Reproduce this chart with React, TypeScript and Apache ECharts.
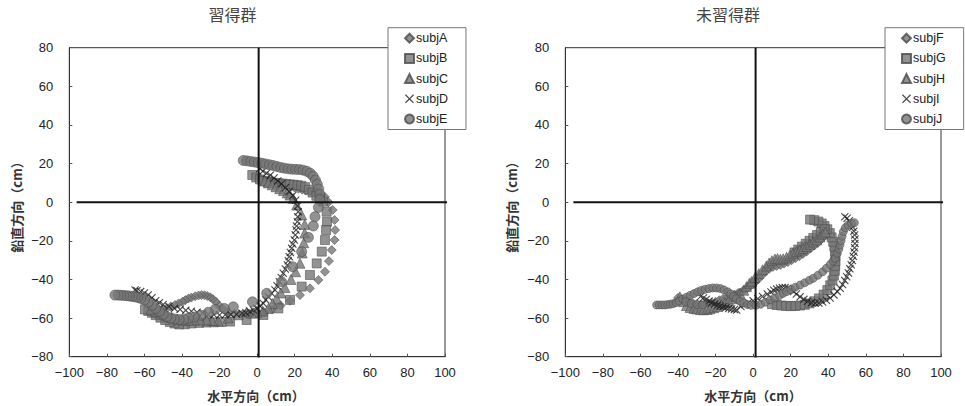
import React, { useEffect, useRef } from "react";
import * as echarts from "echarts";

// ---------- data (left: 習得群) ----------
const leftNames = ["subjA", "subjB", "subjC", "subjD", "subjE"];
const rightNames = ["subjF", "subjG", "subjH", "subjI", "subjJ"];

const subjA = [
  [2, 12], [4, 11.5], [6, 11], [8, 10.5], [10, 10], [12, 9.5], [14, 9], [16, 8.5], [18, 8], [20, 7.5],
  [22, 7], [24, 6.5], [26, 6], [28, 5.5], [30, 5], [32, 4.5], [34, 3.8], [36, 2.8], [38, 0], [40.2, -4],
  [41.2, -9.2], [41.5, -14.4], [41.2, -19.6], [39.7, -24.8], [38.2, -30.5], [36.1, -36], [32.6, -40.3],
  [28.1, -44.6], [22.8, -48.1], [17.5, -51], [12.5, -53.5], [8, -55.5], [4, -57], [0, -57.8], [-4, -58.2],
  [-8, -58.2], [-12, -57.8], [-15.5, -56.8], [-18.5, -55], [-20.5, -53.2], [-22, -51.5], [-23.5, -50.2],
  [-25, -49.2], [-26.5, -48.6], [-28, -48.2], [-29.6, -48.1], [-31.2, -48.3], [-33, -48.7], [-35, -49.4],
  [-36.6, -49.9], [-38.2, -50.7], [-39.8, -51.6], [-41.8, -52.4], [-43.7, -53.2], [-46, -54], [-48, -54.8],
  [-50, -55.5], [-52, -55.8],
];
const subjB = [
  [-2.6, 14.1], [-0.5, 12.8], [1.5, 11.8], [3.5, 11], [5.5, 10.5], [7.5, 10.2], [9.5, 10], [11.5, 9.8],
  [13.5, 9.6], [15.5, 9.4], [17.5, 9.2], [19.5, 9], [21.5, 8.8], [23.5, 8.5], [25.5, 7.8], [27.5, 6.5],
  [29.5, 5], [31.5, 3.3], [33.5, 1.8], [35.2, 0.3], [37, -4.9], [37.2, -10.1], [36.7, -14.4], [36.1, -19.6],
  [34.4, -25.6], [31.7, -31.7], [28.1, -37.7], [23.7, -43.7], [17.5, -50.6], [11.3, -55], [3.3, -58.4],
  [-5.6, -61], [-14.4, -61.8], [-19, -62], [-23, -62.2], [-27, -62.3], [-31, -62.5], [-35, -62.8],
  [-38.5, -63.2], [-41.5, -63.3], [-44, -62.8], [-46.5, -62], [-49, -61], [-51.5, -59.8], [-54, -58.5],
  [-56, -57.3], [-58, -56.3], [-59.7, -55.5],
];
const subjC = [
  [4, 11], [6, 10], [8, 9], [10, 8], [12, 7], [14, 6], [16, 4.8], [17.5, 3.7], [19.2, 2], [21, -1.5],
  [23.7, -6.6], [25.3, -11.5], [25.3, -16], [24.8, -21], [24, -26.3], [22.8, -31.6], [20.5, -36], [18, -40],
  [14.8, -44.2], [12.6, -47], [10.4, -49.8], [8.2, -52.5], [6, -55], [3, -56.3], [0, -57], [-3, -57.5],
  [-5.6, -56.8], [-10, -58.3], [-15.4, -60], [-20.7, -61.5], [-24, -61.3], [-26.9, -61], [-30.4, -61],
  [-33.5, -61], [-36.5, -61.2], [-39.5, -61], [-42.5, -60.5], [-45.5, -59.6], [-48.5, -58.6], [-51.5, -57.5],
  [-54, -56.5], [-56.5, -55.5],
];
const subjD = [
  [1.5, 17.5], [3, 16], [5, 15], [7, 14], [9, 12.5], [11, 11], [13, 9.5], [15, 7.5], [17, 5.5], [19, 3.5],
  [20.5, 1], [21.5, -2], [21.9, -5], [21.6, -7.5], [21.4, -10.1], [21, -12.3], [20.7, -14.4], [20.3, -17],
  [19.8, -19.6], [19, -21.7], [18.4, -23.9], [17.7, -26], [17.1, -28.2], [16.6, -30.3], [16.1, -32.5],
  [15, -34.6], [13.9, -36.8], [12.8, -39], [11.8, -41.2], [10.6, -43.3], [9.5, -45.5], [7.7, -47.2],
  [5.9, -48.9], [4.6, -50.6], [3.3, -52.4], [1.5, -53.7], [-0.2, -55], [-2, -55.8], [-3.8, -56.7],
  [-6, -57.2], [-8, -57.5], [-11, -58], [-14, -58.2], [-17, -58.3], [-20, -58.4], [-23, -58.3], [-26, -58],
  [-29, -57.5], [-32, -57], [-35, -56.5], [-38, -56], [-41, -55.5], [-44, -55], [-47, -54], [-50, -53],
  [-52, -52], [-54, -51], [-56, -49.5], [-58, -48], [-60, -47], [-62, -46.3], [-64, -45.8], [-65, -45.5],
];
const subjE = [
  [-7.4, 21.6], [-5.5, 21.4], [-3.5, 21.1], [-1.5, 20.8], [0.5, 20.5], [2.5, 20.2], [4.5, 19.8], [6.5, 19.4],
  [8.5, 19], [10.5, 18.5], [12.5, 18], [14.5, 17.6], [16.5, 17.3], [18.5, 17.1], [20.5, 17], [22.5, 16.9],
  [24.5, 16.6], [26.5, 16], [28.3, 15], [29.8, 13.5], [31, 11.5], [32, 9.3], [32.8, 6.8], [33.3, 4.2],
  [33.3, 1.3], [32.6, -2.7], [30.8, -7.5], [29.9, -12.3], [27.3, -18.2], [23.7, -25.6], [18.9, -33.4],
  [13, -41.2], [5.1, -47.2], [-2.5, -51.6], [-12.7, -54.2], [-17.5, -55], [-22.4, -55.5], [-26, -57],
  [-30, -58.5], [-33.5, -59.5], [-36.5, -60], [-39, -60.5], [-41.5, -60.8], [-44, -60.5], [-46, -60],
  [-48, -59.2], [-50, -58], [-52, -56.5], [-54, -55], [-56, -53.3], [-58, -51.8], [-60, -50.6], [-62, -49.8],
  [-63.5, -49.3], [-65, -49], [-66.5, -48.8], [-68, -48.6], [-69.5, -48.4], [-71, -48.3], [-72.5, -48.2],
  [-74, -48.1], [-75.7, -48.1],
];

// ---------- data (right: 未習得群) ----------
const subjF = [
  [-40, -49.5], [-38, -50.3], [-36, -51], [-34, -51.8], [-32, -52.4], [-30, -52.8], [-28, -53], [-26, -53],
  [-24, -52.7], [-22, -52.2], [-20, -51.5], [-18, -50.8], [-16, -50], [-14, -49.2], [-12, -48.5], [-10, -47.8],
  [-8, -47], [-7, -46.9], [-5, -45.5], [-3, -44.5], [-1.7, -43.7], [0.5, -42], [2.5, -40], [4.5, -38],
  [6.5, -36], [8.5, -34.5], [10.5, -33.5], [12.5, -33], [14.5, -32.5], [16.5, -31.8], [18.5, -31], [20.5, -30],
  [22.5, -29], [24.5, -28], [26.5, -26.8], [28.5, -25.5], [30.5, -24], [32.5, -22.5], [34.5, -21], [36, -19.5],
  [37.5, -18], [38.5, -16.5], [39.5, -15.5],
];
const subjG = [
  [10, -52.8], [12.5, -53.2], [15, -53.5], [17.5, -53.7], [20, -53.8], [22.5, -53.7], [25, -53.5], [27.5, -53.1],
  [30, -52.4], [32.5, -51.3], [35, -49.8], [37.5, -47.8], [39.5, -45.5], [41, -43], [42.2, -40.5], [43, -38],
  [43.5, -35.5], [43.7, -33], [43.8, -30.5], [43.8, -28], [43.6, -25.5], [43.2, -23], [42.6, -20.5],
  [41.8, -18.2], [40.8, -16], [39.5, -14], [38, -12.3], [36.5, -11], [34.7, -10], [32.5, -9.3], [30.3, -9],
  [22, -26], [24, -24.5], [26, -23], [28, -21.5], [30, -20], [32, -18.5], [34, -17], [36, -15.5], [38, -14],
];
const subjH = [
  [-39, -49], [-37, -51.5], [-35.5, -53.5], [-33.6, -54.5], [-31.5, -55], [-30, -55.3], [-28, -55.6],
  [-26.5, -55.7], [-24.5, -55.5], [-23, -55.2], [-21, -54.6], [-19, -54], [-17, -53], [-15, -52], [-13, -51],
  [-11, -50], [-9, -48.8], [-7, -47.3], [-5, -45.6], [-3.5, -43.7], [-2, -42], [-0.8, -41], [1, -39], [3, -37],
  [5, -35], [7, -33], [8.5, -31.5], [10, -30.3], [11.6, -29.4], [13, -29.2], [14.5, -29.5], [16, -29.3],
  [17.8, -28.5], [19.5, -27.5], [21.2, -26.5], [23, -25.6], [24.8, -24.8], [26.6, -24], [28.5, -23],
  [30.3, -21.8], [32, -20.6], [33.8, -19.5], [35.5, -18], [37, -16.5], [38.5, -15.5],
];
const subjI = [
  [-28, -48.8], [-26.5, -49.6], [-25, -50.4], [-23.5, -51.2], [-22, -52], [-20.5, -52.7], [-19, -53.3],
  [-17.5, -53.8], [-16, -54.2], [-14.5, -54.6], [-13, -55], [-11.5, -55.3], [-10, -55.6], [-8.8, -55.8],
  [-6.5, -54], [-4.5, -53], [-2.5, -52], [0, -51], [2.5, -50], [5, -48.8], [7.5, -47.5], [9.5, -46.5],
  [11, -45.6], [12.5, -45], [14, -44.5], [15.5, -44.2], [17, -44.2], [18.5, -44.5], [20, -45.2], [21.5, -46.2],
  [23, -47.5], [25, -49], [27, -50.3], [29, -51.3], [31, -52], [33, -52.3], [35, -52.2], [37, -51.7],
  [39, -50.8], [41, -49.6], [43, -48], [44.8, -46.3], [46.3, -44.5], [47.6, -42.6], [48.8, -40.6],
  [49.8, -38.6], [50.7, -36.6], [51.5, -34.5], [52.2, -32.4], [52.8, -30.2], [53.3, -28], [53.7, -25.8],
  [54, -23.6], [54.2, -21.4], [54.2, -19.2], [54, -17], [53.6, -15], [53, -13], [52.2, -11.2], [51.2, -9.6],
  [50, -8.3], [48.8, -7.5],
];
const subjJ = [
  [-51.4, -53.2], [-50, -53.2], [-48.5, -53.2], [-47, -53.2], [-45.5, -53], [-44, -52.8], [-42.5, -52.5],
  [-41, -52], [-39.5, -51.2], [-37.5, -50.2], [-35.5, -49.2], [-33.5, -48.2], [-31.5, -47.3], [-29.5, -46.4],
  [-27.5, -45.6], [-25.5, -45.1], [-23.5, -44.7], [-21.5, -44.4], [-19.5, -44.4], [-17.5, -44.7],
  [-15.5, -45.4], [-13.5, -46.4], [-12, -47.5], [-10.5, -48.8], [-9, -50], [-7, -51.2], [-5, -52.2],
  [-3, -53], [-1, -53.4], [1.5, -53.4], [4, -52.8], [6.5, -51.8], [9, -50.6], [11.5, -49.5], [14, -48.3],
  [16, -47.2], [17.8, -46.3], [20, -45.2], [22.5, -44], [25, -42.9], [27.5, -41.7], [30, -40.4], [32, -39.4],
  [34.5, -37.8], [37, -36], [39, -34.2], [41, -32.3], [42.5, -30.5], [43.6, -29.1], [44.8, -26.5],
  [45.6, -24.3], [46.2, -22.2], [46.8, -20], [47.3, -17.7], [48, -15.3], [49, -13.3], [50.5, -11.8],
  [52.4, -11], [53.9, -10.6], [-36, -51.6], [-33, -52.5], [-30, -53], [-27, -53.2],
];

// reference cross lines [x of vertical line, horizontal line x-start, x-end]
const crossLeft = [0.8, -96.1, 101.4];
const crossRight = [1.3, -95.7, 101.6];

const FILL = "#777777";
const EDGE = "#4a4a4a";
const CROSS = "path://M0,1L1,0L5,4L9,0L10,1L6,5L10,9L9,10L5,6L1,10L0,9L4,5Z";
const NUM_FONT = "'Liberation Sans', Arial, sans-serif";
const CJK_FONT = "'Noto Sans CJK JP', sans-serif";

const minus = (v: number) => String(v).replace("-", "\u2212");

function scatter(name: string, data: number[][], symbol: string, size: number, idx: number) {
  const isCross = symbol === CROSS;
  return {
    type: "scatter",
    name,
    data,
    xAxisIndex: idx,
    yAxisIndex: idx,
    symbol,
    symbolSize: size,
    silent: true,
    itemStyle: isCross
      ? { color: "#1e1e1e", borderWidth: 0 }
      : { color: FILL, borderColor: EDGE, borderWidth: 0.7 },
  };
}

function crossSeries(c: number[], idx: number) {
  const common = {
    type: "line",
    xAxisIndex: idx,
    yAxisIndex: idx,
    symbol: "none",
    clip: false,
    silent: true,
    z: 5,
    lineStyle: { color: "#111", width: 2 },
  };
  return [
    { ...common, data: [[c[1], 0], [c[2], 0]] },
    { ...common, data: [[c[0], 80], [c[0], -80.4]] },
  ];
}

function axisPair(idx: number) {
  const label = { fontSize: 13, color: "#222", fontFamily: NUM_FONT, formatter: minus };
  return {
    x: {
      type: "value", gridIndex: idx, min: -100, max: 100, interval: 20,
      axisLine: { show: true, onZero: false, lineStyle: { color: "#333", width: 1 } },
      axisTick: { show: true, inside: true, length: 3, lineStyle: { color: "#555" } },
      splitLine: { show: false },
      axisLabel: { ...label, margin: 9 },
    },
    y: {
      type: "value", gridIndex: idx, min: -80, max: 80, interval: 20,
      axisLine: { show: true, onZero: false, lineStyle: { color: "#333", width: 1 } },
      axisTick: { show: true, inside: true, length: 3, lineStyle: { color: "#555" } },
      splitLine: { show: false },
      axisLabel: { ...label, margin: 16 },
    },
  };
}

function legend(names: string[], left: number) {
  return {
    data: names,
    orient: "vertical",
    left,
    top: 27.7,
    padding: [4, 18, 4, 16],
    itemGap: 7.2,
    itemWidth: 9,
    itemHeight: 9,
    selectedMode: false,
    backgroundColor: "#fff",
    borderColor: "#777",
    borderWidth: 1,
    textStyle: {
      fontSize: 12.5, lineHeight: 12, color: "#222", fontFamily: NUM_FONT,
      padding: [0, 0, 0, -3],
    },
  };
}

function txt(text: string, x: number, y: number, size: number, opts: any = {}) {
  return {
    type: "text",
    x,
    y,
    rotation: opts.rotation || 0,
    silent: true,
    style: {
      text,
      fontSize: size,
      fontFamily: CJK_FONT,
      fontWeight: opts.bold ? "bold" : "normal",
      fill: opts.color || "#333",
      align: "center",
      verticalAlign: "middle",
    },
  };
}

export default function App() {
  const ref = useRef<HTMLDivElement>(null);
  useEffect(() => {
    if (!ref.current) return;
    const chart = echarts.init(ref.current, undefined, { renderer: "svg" });
    const a0 = axisPair(0);
    const a1 = axisPair(1);
    const option: any = {
      animation: false,
      backgroundColor: "#fff",
      grid: [
        { left: 69.3, top: 47.7, width: 375.7, height: 309, show: true, borderColor: "#333", borderWidth: 1 },
        { left: 565.3, top: 47.7, width: 375.7, height: 309, show: true, borderColor: "#333", borderWidth: 1 },
      ],
      xAxis: [a0.x, a1.x],
      yAxis: [a0.y, a1.y],
      legend: [legend(leftNames, 388), legend(rightNames, 885)],
      series: [
        scatter("subjA", subjA, "diamond", 9, 0),
        scatter("subjB", subjB, "rect", 9, 0),
        scatter("subjC", subjC, "triangle", 10, 0),
        scatter("subjD", subjD, CROSS, 8, 0),
        scatter("subjE", subjE, "circle", 10, 0),
        ...crossSeries(crossLeft, 0),
        scatter("subjF", subjF, "diamond", 9, 1),
        scatter("subjG", subjG, "rect", 9, 1),
        scatter("subjH", subjH, "triangle", 10, 1),
        scatter("subjI", subjI, CROSS, 8, 1),
        scatter("subjJ", subjJ, "circle", 8, 1),
        ...crossSeries(crossRight, 1),
      ],
      graphic: [
        txt("習得群", 232.5, 13.5, 16, { color: "#444" }),
        txt("未習得群", 728, 13.5, 16, { color: "#444" }),
        txt("水平方向（cm）", 256, 395, 13, { bold: true }),
        txt("水平方向（cm）", 753, 395, 13, { bold: true }),
        txt("鉛直方向（cm）", 16, 204, 13, { bold: true, rotation: Math.PI / 2 }),
        txt("鉛直方向（cm）", 511.7, 204, 13, { bold: true, rotation: Math.PI / 2 }),
      ],
    };
    chart.setOption(option);
    return () => chart.dispose();
  }, []);
  return (
    <div
      ref={ref}
      style={{ position: "absolute", left: 0, top: 0, width: 965, height: 406 }}
    />
  );
}
